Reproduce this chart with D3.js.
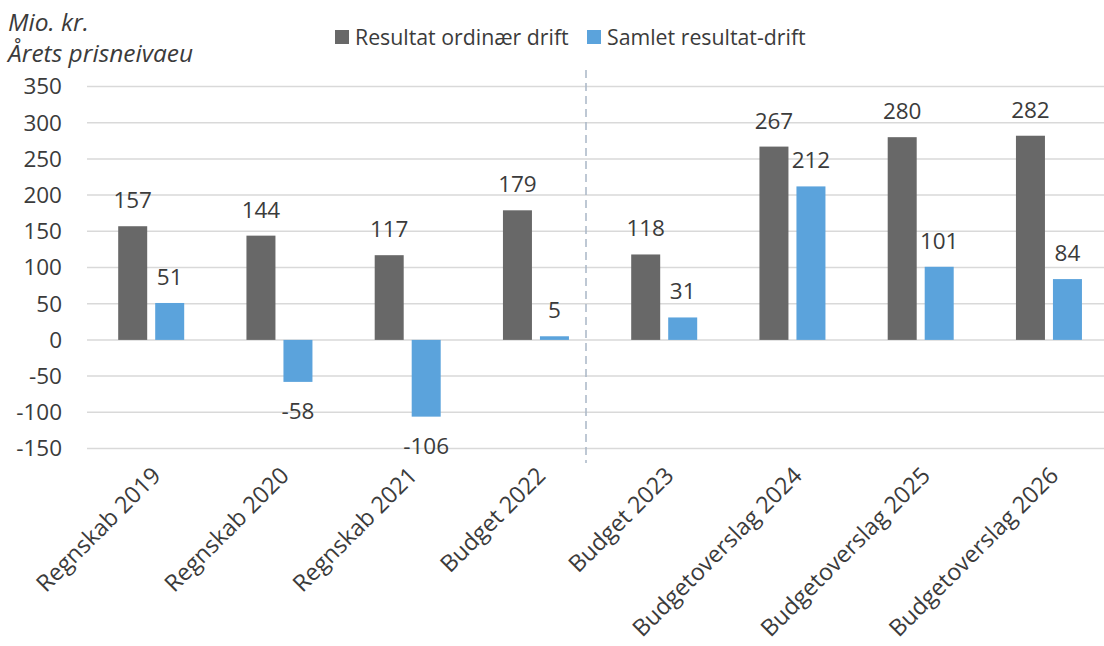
<!DOCTYPE html>
<html>
<head>
<meta charset="utf-8">
<script src="https://cdn.jsdelivr.net/npm/d3@7"></script>
<style>
  body { margin: 0; background: #fff; }
  text { font-family: "Open Sans", sans-serif; fill: #3b3b3b; }
</style>
</head>
<body>
<div id="chart"></div>
<script>
const width = 1104;
const height = 646;

// data
const categories = ["Regnskab 2019", "Regnskab 2020", "Regnskab 2021", "Budget 2022",
    "Budget 2023", "Budgetoverslag 2024", "Budgetoverslag 2025", "Budgetoverslag 2026"];
const seriesNames = ["Resultat ordinær drift", "Samlet resultat-drift"];
const ordinaerDrift = [157, 144, 117, 179, 118, 267, 280, 282];
const samletDrift = [51, -58, -106, 5, 31, 212, 101, 84];
const yTicks = [-150, -100, -50, 0, 50, 100, 150, 200, 250, 300, 350];
const colors = ["#686868", "#5ba3dc"];

var svg = d3.select("#chart")
    .append("svg")
    .attr("width", width)
    .attr("height", height)

const x0 = d3.scaleBand()
    .domain(categories)
    .range([87, 1113]);

const x1 = d3.scaleBand()
    .domain(seriesNames)
    .range([31.2, 97.2])
    .paddingInner(8 / 37);

const y = d3.scaleLinear()
    .domain([-150, 350])
    .range([448.5, 86.5]);

// gridlines
svg.append("g")
    .selectAll("line")
    .data(yTicks)
    .join("line")
    .attr("x1", 87)
    .attr("x2", 1113)
    .attr("y1", d => y(d))
    .attr("y2", d => y(d))
    .attr("stroke", "#d9d9d9")
    .attr("stroke-width", 1.5);

// y axis labels
svg.append("g")
    .selectAll("text")
    .data(yTicks)
    .join("text")
    .attr("x", 62)
    .attr("y", d => y(d))
    .attr("dy", "0.35em")
    .attr("text-anchor", "end")
    .style("font-size", "22.5px")
    .text(d => d);

// divider between regnskab/budget and the rest
svg.append("line")
    .attr("x1", x0("Budget 2023") - 14)
    .attr("x2", x0("Budget 2023") - 14)
    .attr("y1", 70)
    .attr("y2", 463)
    .attr("stroke", "#a9b6c6")
    .attr("stroke-width", 1.5)
    .attr("stroke-dasharray", "8,5");

let rows = categories.map((c, i) => ({
    cat: c,
    values: [ordinaerDrift[i], samletDrift[i]]
}));

let groups = svg.append("g")
    .selectAll("g")
    .data(rows)
    .join("g")
    .attr("transform", d => "translate(" + x0(d.cat) + ",0)");

let cells = groups.selectAll("g")
    .data(d => d.values.map((v, i) => ({ name: seriesNames[i], value: v, idx: i })))
    .join("g");

cells.append("rect")
    .attr("x", d => x1(d.name))
    .attr("width", x1.bandwidth())
    .attr("y", d => y(Math.max(0, d.value)))
    .attr("height", d => Math.abs(y(d.value) - y(0)))
    .attr("fill", d => colors[d.idx]);

cells.append("text")
    .attr("x", d => x1(d.name) + x1.bandwidth() / 2)
    .attr("y", d => d.value >= 0 ? y(d.value) - 18 : y(d.value) + 37)
    .attr("text-anchor", "middle")
    .style("font-size", "22.5px")
    .text(d => d.value);

// category labels, rotated
svg.append("g")
    .selectAll("text")
    .data(categories)
    .join("text")
    .attr("text-anchor", "end")
    .attr("transform", d => "translate(" + (x0(d) + x0.bandwidth() / 2 + 11) + ",477) rotate(-45)")
    .style("font-size", "23.3px")
    .text(d => d);

// legend
let legend = svg.append("g")
    .selectAll("g")
    .data(seriesNames)
    .join("g")
    .attr("transform", (d, i) => "translate(" + [335, 587][i] + ",30)");

legend.append("rect")
    .attr("width", 14)
    .attr("height", 14)
    .attr("fill", (d, i) => colors[i]);

legend.append("text")
    .attr("x", 20)
    .attr("y", 14.5)
    .style("font-size", "21.3px")
    .text(d => d);

// unit title
svg.append("text")
    .attr("x", 8)
    .attr("y", 31)
    .style("font-size", "24.5px")
    .style("font-style", "italic")
    .text("Mio. kr.");

svg.append("text")
    .attr("x", 8)
    .attr("y", 62)
    .style("font-size", "24.5px")
    .style("font-style", "italic")
    .text("Årets prisneivaeu");
</script>
</body>
</html>
